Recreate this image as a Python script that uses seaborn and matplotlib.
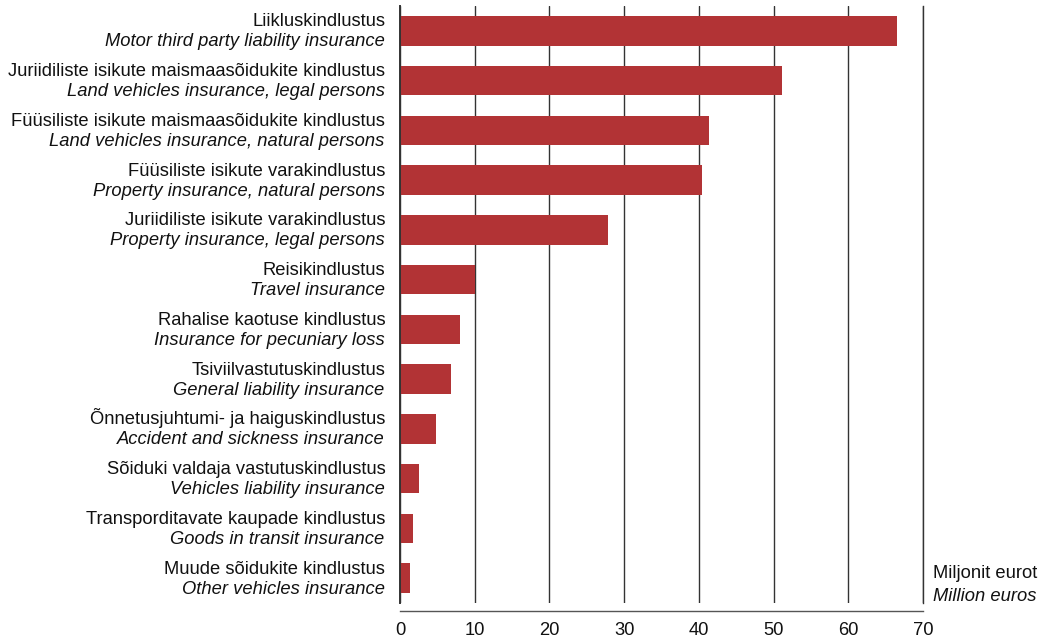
#!/usr/bin/env python3
"""Horizontal bar chart: insurance premiums by class (Estonian / English labels)."""

import matplotlib

matplotlib.use("Agg")
import matplotlib.pyplot as plt
import pandas as pd
import seaborn as sns

LABELS_ET = [
    "Liikluskindlustus",
    "Juriidiliste isikute maismaasõidukite kindlustus",
    "Füüsiliste isikute maismaasõidukite kindlustus",
    "Füüsiliste isikute varakindlustus",
    "Juriidiliste isikute varakindlustus",
    "Reisikindlustus",
    "Rahalise kaotuse kindlustus",
    "Tsiviilvastutuskindlustus",
    "Õnnetusjuhtumi- ja haiguskindlustus",
    "Sõiduki valdaja vastutuskindlustus",
    "Transporditavate kaupade kindlustus",
    "Muude sõidukite kindlustus",
]
LABELS_EN = [
    "Motor third party liability insurance",
    "Land vehicles insurance, legal persons",
    "Land vehicles insurance, natural persons",
    "Property insurance, natural persons",
    "Property insurance, legal persons",
    "Travel insurance",
    "Insurance for pecuniary loss",
    "General liability insurance",
    "Accident and sickness insurance",
    "Vehicles liability insurance",
    "Goods in transit insurance",
    "Other vehicles insurance",
]
VALUES = [66.5, 51.1, 41.3, 40.4, 27.9, 10.1, 8.1, 6.8, 4.8, 2.6, 1.7, 1.3]
X_TICKS = [0, 10, 20, 30, 40, 50, 60, 70]

BAR_COLOR = "#B23335"
TEXT_COLOR = "#111111"
GRID_COLOR = "#333333"
FS = 13.2


def main() -> None:
    sns.set_theme(style="white")
    plt.rcParams["font.family"] = ["Liberation Sans", "DejaVu Sans"]

    df = pd.DataFrame({"label": LABELS_ET, "value": VALUES})

    fig = plt.figure(figsize=(10.47, 6.42), dpi=100)
    ax = fig.add_axes([0.382, 0.0607, 0.4995, 0.93])

    sns.barplot(
        data=df,
        x="value",
        y="label",
        order=LABELS_ET,
        color=BAR_COLOR,
        saturation=1,
        width=0.59,
        linewidth=0,
        orient="h",
        ax=ax,
    )

    ax.set_xlim(0, 70)
    ax.set_ylim(len(LABELS_ET) - 0.5, -0.5)
    ax.set_xticks(X_TICKS)
    ax.set_xticklabels([str(t) for t in X_TICKS])
    ax.set_yticks([])
    ax.set_xlabel("")
    ax.set_ylabel("")

    ax.grid(axis="x", color=GRID_COLOR, linewidth=1.0)
    ax.set_axisbelow(True)

    ax.spines["top"].set_visible(False)
    # right spine stands in for the 70 gridline (edge gridline gets clipped)
    ax.spines["right"].set_color(GRID_COLOR)
    ax.spines["right"].set_linewidth(1.0)
    ax.spines["left"].set_color("#333333")
    ax.spines["left"].set_linewidth(1.4)
    ax.spines["bottom"].set_position(("outward", 6))
    ax.spines["bottom"].set_color("#555555")
    ax.spines["bottom"].set_linewidth(1.0)
    ax.tick_params(axis="x", direction="out", length=5, width=1.0,
                   color="#555555", pad=3, labelsize=FS, labelcolor=TEXT_COLOR)

    # two-line category labels: Estonian on top, English (italic) below
    for i, (et, en) in enumerate(zip(LABELS_ET, LABELS_EN)):
        ax.annotate(et, xy=(0, i), xycoords=("axes fraction", "data"),
                    xytext=(-10.5, 3.2), textcoords="offset points",
                    ha="right", va="baseline", fontsize=FS, color=TEXT_COLOR)
        ax.annotate(en, xy=(0, i), xycoords=("axes fraction", "data"),
                    xytext=(-11, -11.2), textcoords="offset points",
                    ha="right", va="baseline", fontsize=FS, color=TEXT_COLOR,
                    style="italic")

    last = len(LABELS_ET) - 1
    ax.annotate("Miljonit eurot", xy=(1, last), xycoords=("axes fraction", "data"),
                xytext=(7, 0), textcoords="offset points",
                ha="left", va="baseline", fontsize=FS, color=TEXT_COLOR,
                annotation_clip=False)
    ax.annotate("Million euros", xy=(1, last), xycoords=("axes fraction", "data"),
                xytext=(7, -16.5), textcoords="offset points",
                ha="left", va="baseline", fontsize=FS, color=TEXT_COLOR,
                style="italic", annotation_clip=False)

    fig.patch.set_facecolor("white")
    fig.savefig("out.png", dpi=100)
    plt.close(fig)


if __name__ == "__main__":
    main()
